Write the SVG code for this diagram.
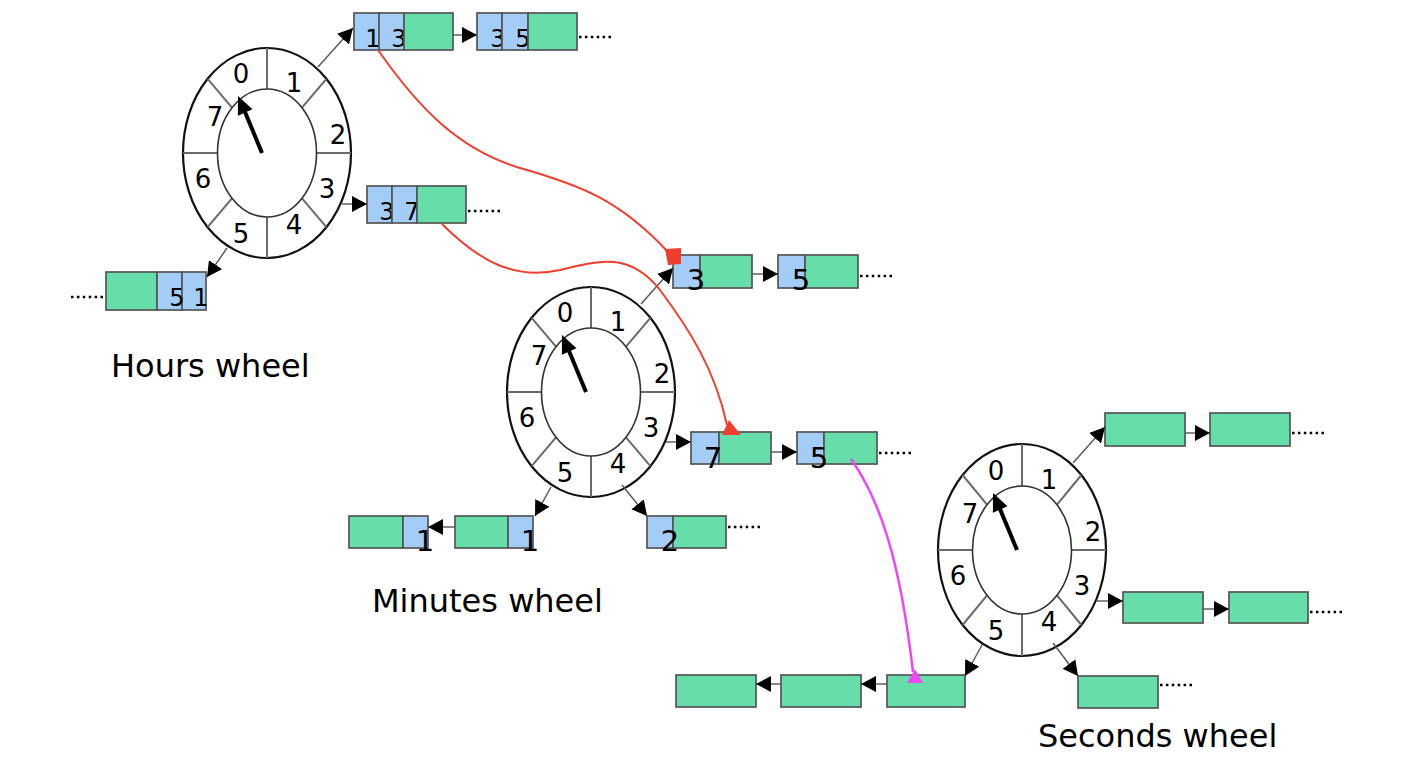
<svg xmlns="http://www.w3.org/2000/svg" width="1426" height="768" viewBox="0 0 1426 768">
<style>
.outer{fill:#fff;stroke:#111;stroke-width:2.2}
.inner{fill:none;stroke:#333;stroke-width:1.6}
.div{stroke:#6a6a6a;stroke-width:2}
.num{font-family:"DejaVu Sans",Verdana,sans-serif;font-size:26px;text-anchor:middle;fill:#000}
.hd{font-family:"DejaVu Sans",Verdana,sans-serif;font-size:24px;text-anchor:middle;fill:#000}
.md{font-family:"DejaVu Sans",Verdana,sans-serif;font-size:29px;text-anchor:middle;fill:#000}
.blue{fill:#A3CCF7;stroke:#555;stroke-width:1.7}
.green{fill:#66DEAA;stroke:#555;stroke-width:1.7}
.conn{stroke:#555;stroke-width:1.4;fill:none;marker-end:url(#arr)}
.dots{stroke:#000;stroke-width:2.5;stroke-dasharray:2.5 3.4;fill:none}
.red{stroke:#F03E2E;stroke-width:2;fill:none}
.mag{stroke:#EE48F0;stroke-width:2.5;fill:none}
.label{font-family:"DejaVu Sans",Verdana,sans-serif;font-size:32px;fill:#000}
.hand{stroke:#000;stroke-width:4}
</style>
<defs>
<marker id="arr" viewBox="0 0 15 16" refX="15" refY="8" markerWidth="15" markerHeight="16" markerUnits="userSpaceOnUse" orient="auto">
<path d="M0,0 L15,8 L0,16 z" fill="#000"/>
</marker>
</defs>
<rect width="1426" height="768" fill="#fff"/>

<g id="hours-wheel" transform="translate(267,153)">
<ellipse class="outer" rx="84" ry="105"/>
<line class="div" x1="0" y1="-105" x2="0" y2="-64"/>
<line class="div" x1="0" y1="64" x2="0" y2="105"/>
<line class="div" x1="-84" y1="0" x2="-49.5" y2="0"/>
<line class="div" x1="49.5" y1="0" x2="84" y2="0"/>
<line class="div" x1="-59.4" y1="-74.2" x2="-35" y2="-45.3"/>
<line class="div" x1="59.4" y1="-74.2" x2="35" y2="-45.3"/>
<line class="div" x1="-59.4" y1="74.2" x2="-35" y2="45.3"/>
<line class="div" x1="59.4" y1="74.2" x2="35" y2="45.3"/>
<ellipse class="inner" rx="49.5" ry="64"/>
<line class="hand" x1="-5" y1="0" x2="-22" y2="-41"/>
<polygon points="-29,-57 -14.5,-43.7 -29.1,-37.3" fill="#000"/>
<text class="num" x="-26" y="-70">0</text>
<text class="num" x="27" y="-61">1</text>
<text class="num" x="71" y="-9">2</text>
<text class="num" x="60" y="45">3</text>
<text class="num" x="27" y="81">4</text>
<text class="num" x="-26" y="90">5</text>
<text class="num" x="-64" y="35">6</text>
<text class="num" x="-52" y="-27">7</text>
</g>

<g id="minutes-wheel" transform="translate(591,392)">
<ellipse class="outer" rx="84" ry="105"/>
<line class="div" x1="0" y1="-105" x2="0" y2="-64"/>
<line class="div" x1="0" y1="64" x2="0" y2="105"/>
<line class="div" x1="-84" y1="0" x2="-49.5" y2="0"/>
<line class="div" x1="49.5" y1="0" x2="84" y2="0"/>
<line class="div" x1="-59.4" y1="-74.2" x2="-35" y2="-45.3"/>
<line class="div" x1="59.4" y1="-74.2" x2="35" y2="-45.3"/>
<line class="div" x1="-59.4" y1="74.2" x2="-35" y2="45.3"/>
<line class="div" x1="59.4" y1="74.2" x2="35" y2="45.3"/>
<ellipse class="inner" rx="49.5" ry="64"/>
<line class="hand" x1="-5" y1="0" x2="-22" y2="-41"/>
<polygon points="-29,-57 -14.5,-43.7 -29.1,-37.3" fill="#000"/>
<text class="num" x="-26" y="-70">0</text>
<text class="num" x="27" y="-61">1</text>
<text class="num" x="71" y="-9">2</text>
<text class="num" x="60" y="45">3</text>
<text class="num" x="27" y="81">4</text>
<text class="num" x="-26" y="90">5</text>
<text class="num" x="-64" y="35">6</text>
<text class="num" x="-52" y="-27">7</text>
</g>

<g id="seconds-wheel" transform="translate(1022,550)">
<ellipse class="outer" rx="84" ry="106"/>
<line class="div" x1="0" y1="-106" x2="0" y2="-64"/>
<line class="div" x1="0" y1="64" x2="0" y2="106"/>
<line class="div" x1="-84" y1="0" x2="-49.5" y2="0"/>
<line class="div" x1="49.5" y1="0" x2="84" y2="0"/>
<line class="div" x1="-59.4" y1="-75" x2="-35" y2="-45.3"/>
<line class="div" x1="59.4" y1="-75" x2="35" y2="-45.3"/>
<line class="div" x1="-59.4" y1="75" x2="-35" y2="45.3"/>
<line class="div" x1="59.4" y1="75" x2="35" y2="45.3"/>
<ellipse class="inner" rx="49.5" ry="64"/>
<line class="hand" x1="-5" y1="0" x2="-22" y2="-41"/>
<polygon points="-29,-57 -14.5,-43.7 -29.1,-37.3" fill="#000"/>
<text class="num" x="-26" y="-70">0</text>
<text class="num" x="27" y="-61">1</text>
<text class="num" x="71" y="-9">2</text>
<text class="num" x="60" y="45">3</text>
<text class="num" x="27" y="81">4</text>
<text class="num" x="-26" y="90">5</text>
<text class="num" x="-64" y="35">6</text>
<text class="num" x="-52" y="-27">7</text>
</g>

<g id="hours-list-1a">
<rect class="blue" x="354" y="13" width="25" height="37"/>
<text class="hd" x="373" y="47">1</text>
<rect class="blue" x="379" y="13" width="25" height="37"/>
<text class="hd" x="399" y="47">3</text>
<rect class="green" x="404" y="13" width="49" height="37"/>
</g>
<g id="hours-list-1b">
<rect class="blue" x="477" y="13" width="25" height="37"/>
<text class="hd" x="498" y="47">3</text>
<rect class="blue" x="502" y="13" width="26" height="37"/>
<text class="hd" x="523" y="47">5</text>
<rect class="green" x="528" y="13" width="49" height="37"/>
</g>
<g id="hours-list-3">
<rect class="blue" x="367" y="186" width="25" height="37"/>
<text class="hd" x="387" y="220">3</text>
<rect class="blue" x="392" y="186" width="25" height="37"/>
<text class="hd" x="412" y="220">7</text>
<rect class="green" x="417" y="186" width="49" height="37"/>
</g>
<g id="hours-list-5">
<rect class="green" x="106" y="272" width="51" height="38"/>
<rect class="blue" x="157" y="272" width="25" height="38"/>
<rect class="blue" x="182" y="272" width="24" height="38"/>
<text class="hd" x="177" y="306">5</text>
<text class="hd" x="201" y="306">1</text>
</g>

<g id="minutes-list-1a">
<rect class="blue" x="673" y="255" width="27" height="33"/>
<rect class="green" x="700" y="255" width="52" height="33"/>
<text class="md" x="696" y="290">3</text>
</g>
<g id="minutes-list-1b">
<rect class="blue" x="778" y="255" width="27" height="33"/>
<rect class="green" x="805" y="255" width="53" height="33"/>
<text class="md" x="801" y="290">5</text>
</g>
<g id="minutes-list-3a">
<rect class="blue" x="691" y="432" width="28" height="32"/>
<rect class="green" x="719" y="432" width="52" height="32"/>
<text class="md" x="713" y="468">7</text>
</g>
<g id="minutes-list-3b">
<rect class="blue" x="797" y="432" width="27" height="32"/>
<rect class="green" x="824" y="432" width="53" height="32"/>
<text class="md" x="819" y="468">5</text>
</g>
<g id="minutes-list-5a">
<rect class="green" x="455" y="516" width="53" height="32"/>
<rect class="blue" x="508" y="516" width="25" height="32"/>
<text class="md" x="530" y="551">1</text>
</g>
<g id="minutes-list-5b">
<rect class="green" x="349" y="516" width="54" height="32"/>
<rect class="blue" x="403" y="516" width="25" height="32"/>
<text class="md" x="425" y="551">1</text>
</g>
<g id="minutes-list-4">
<rect class="blue" x="647" y="516" width="26" height="32"/>
<rect class="green" x="673" y="516" width="53" height="32"/>
<text class="md" x="670" y="551">2</text>
</g>

<g id="seconds-list-1a"><rect class="green" x="1105" y="413" width="80" height="33"/></g>
<g id="seconds-list-1b"><rect class="green" x="1210" y="413" width="80" height="33"/></g>
<g id="seconds-list-3a"><rect class="green" x="1123" y="592" width="80" height="31"/></g>
<g id="seconds-list-3b"><rect class="green" x="1229" y="592" width="79" height="31"/></g>
<g id="seconds-list-4"><rect class="green" x="1078" y="676" width="80" height="32"/></g>
<g id="seconds-list-5a"><rect class="green" x="887" y="675" width="78" height="32"/></g>
<g id="seconds-list-5b"><rect class="green" x="781" y="675" width="80" height="32"/></g>
<g id="seconds-list-5c"><rect class="green" x="676" y="675" width="80" height="32"/></g>

<g id="labels">
<text class="label" x="111" y="377">Hours wheel</text>
<text class="label" x="372" y="612">Minutes wheel</text>
<text class="label" x="1038" y="747">Seconds wheel</text>
</g>

<g id="connectors">
<line class="conn" x1="318" y1="67" x2="353" y2="28"/>
<line class="conn" x1="342" y1="204" x2="367" y2="204"/>
<line class="conn" x1="227" y1="248" x2="207" y2="277"/>
<line class="conn" x1="453" y1="35" x2="477" y2="35"/>
<line class="dots" x1="579" y1="37" x2="612" y2="37"/>
<line class="dots" x1="468" y1="211" x2="500" y2="211"/>
<line class="dots" x1="103" y1="297" x2="69" y2="297"/>

<line class="conn" x1="641" y1="304" x2="673" y2="268"/>
<line class="conn" x1="666" y1="442" x2="691" y2="442"/>
<line class="conn" x1="551" y1="487" x2="535" y2="516"/>
<line class="conn" x1="622" y1="485" x2="647" y2="516"/>
<line class="conn" x1="752" y1="274" x2="778" y2="274"/>
<line class="conn" x1="771" y1="452" x2="797" y2="452"/>
<line class="conn" x1="455" y1="527" x2="428" y2="527"/>
<line class="dots" x1="860" y1="276" x2="892" y2="276"/>
<line class="dots" x1="879" y1="453" x2="912" y2="453"/>
<line class="dots" x1="728" y1="527" x2="762" y2="527"/>

<line class="conn" x1="1073" y1="463" x2="1105" y2="427"/>
<line class="conn" x1="1097" y1="601" x2="1123" y2="601"/>
<line class="conn" x1="1053" y1="643" x2="1078" y2="676"/>
<line class="conn" x1="982" y1="645" x2="965" y2="676"/>
<line class="conn" x1="1185" y1="433" x2="1210" y2="433"/>
<line class="conn" x1="1203" y1="609" x2="1229" y2="609"/>
<line class="conn" x1="887" y1="684" x2="861" y2="684"/>
<line class="conn" x1="781" y1="684" x2="756" y2="684"/>
<line class="dots" x1="1292" y1="433" x2="1324" y2="433"/>
<line class="dots" x1="1310" y1="612" x2="1342" y2="612"/>
<line class="dots" x1="1160" y1="685" x2="1192" y2="685"/>

<path class="red" d="M378,50 C420,110 460,150 520,168 C580,185 620,200 668,252"/>
<polygon points="665,249 681,248 681,264 668,265" fill="#F03E2E"/>
<path class="red" d="M442,224 C480,262 515,280 560,270 C600,260 630,252 660,290 C690,330 715,370 727,425"/>
<polygon points="722,435 741,435 729,420" fill="#F03E2E"/>
<path class="mag" d="M851,459 C880,500 900,560 913,672"/>
<polygon points="915,669 907,683 923,683" fill="#EE48F0"/>
</g>
</svg>
